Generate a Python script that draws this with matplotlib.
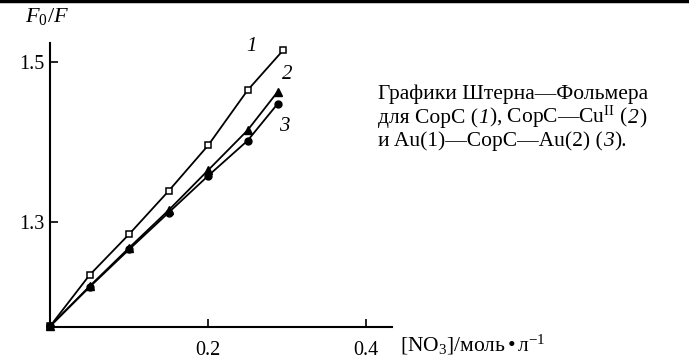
import matplotlib.pyplot as plt
from matplotlib.lines import Line2D

plt.rcParams['font.family'] = ['Liberation Serif', 'DejaVu Serif']
plt.rcParams['mathtext.fontset'] = 'custom'
plt.rcParams['mathtext.rm'] = 'Liberation Serif'
plt.rcParams['mathtext.it'] = 'Liberation Serif:italic'
plt.rcParams['mathtext.bf'] = 'Liberation Serif:bold'

# концентрация нитрата, моль/л
conc = [0.0, 0.05, 0.10, 0.15, 0.20, 0.25, 0.295]
conc_23 = [0.0, 0.05, 0.10, 0.15, 0.20, 0.25, 0.288]

# F0/F
y_copc = [1.17, 1.234, 1.285, 1.339, 1.396, 1.465, 1.515]
y_copc_cu = [1.17, 1.220, 1.268, 1.315, 1.365, 1.415, 1.463]
y_au_copc = [1.17, 1.219, 1.266, 1.312, 1.358, 1.402, 1.448]

xticks = [0.2, 0.4]
yticks = [1.3, 1.5]

# подпись: (текст, курсив?)
caption_lines = [
    [('Графики Штерна—Фольмера', False)],
    [('для CopC (', False), ('1', True), ('), CopC—Cu$^{\\mathrm{II}}$ (', False),
     ('2', True), (')', False)],
    [('и Au(1)—CopC—Au(2) (', False), ('3', True), (').', False)],
]

fig = plt.figure(figsize=(6.89, 3.60), dpi=100)
ax = fig.add_axes([0.0726, 0.0925, 0.496, 0.789])

ax.plot(conc, y_copc, color='black', lw=1.3, marker='s', ms=5,
        mfc='white', mec='black', mew=1.1, clip_on=False, zorder=3)
ax.plot(conc_23, y_copc_cu, color='black', lw=1.3, marker='^', ms=5.5,
        mfc='black', mec='black', clip_on=False, zorder=3)
ax.plot(conc_23, y_au_copc, color='black', lw=1.3, marker='o', ms=5,
        mfc='black', mec='black', clip_on=False, zorder=3)
ax.plot([0], [1.17], 'o', color='black', ms=5, clip_on=False, zorder=4)

ax.set_xlim(0, 0.4325)
ax.set_ylim(1.1695, 1.5245)
ax.set_xticks(xticks)
ax.set_yticks(yticks)
ax.set_xticklabels(['0.2', '0.4'], fontsize=14.5)
ax.set_yticklabels(['1.3', '1.5'], fontsize=14.5)
ax.tick_params(direction='in', length=6, width=1.2)
ax.tick_params(axis='x', pad=10)
ax.tick_params(axis='y', pad=4)
for s in ['top', 'right']:
    ax.spines[s].set_visible(False)
for s in ['left', 'bottom']:
    ax.spines[s].set_linewidth(1.5)

# номера кривых
ax.text(0.255, 1.52, '1', style='italic', fontsize=15, ha='center', va='center')
ax.text(0.300, 1.485, '2', style='italic', fontsize=15, ha='center', va='center')
ax.text(0.297, 1.42, '3', style='italic', fontsize=15, ha='center', va='center')

fig.text(0.068, 0.955, r'$F_0/F$', fontsize=16, ha='center', va='center')
fig.text(0.58, 0.024, r'[NO$_3$]/моль$\,$•$\,$л$^{-1}$', fontsize=15.5,
         ha='left', va='baseline')

# подпись собирается по кусочкам, чтобы номера кривых были курсивом
r = fig.canvas.get_renderer()
base_y = [0.725, 0.658, 0.594]
for line, y in zip(caption_lines, base_y):
    x = 0.549
    for s, it in line:
        t = fig.text(x, y, s, fontsize=15.5, style='italic' if it else 'normal',
                     ha='left', va='baseline')
        x += t.get_window_extent(r).width / fig.bbox.width

# рамка страницы сверху
fig.add_artist(Line2D([0, 1], [0.996, 0.996], color='black', lw=2.5))

fig.savefig('out.png', dpi=100)
